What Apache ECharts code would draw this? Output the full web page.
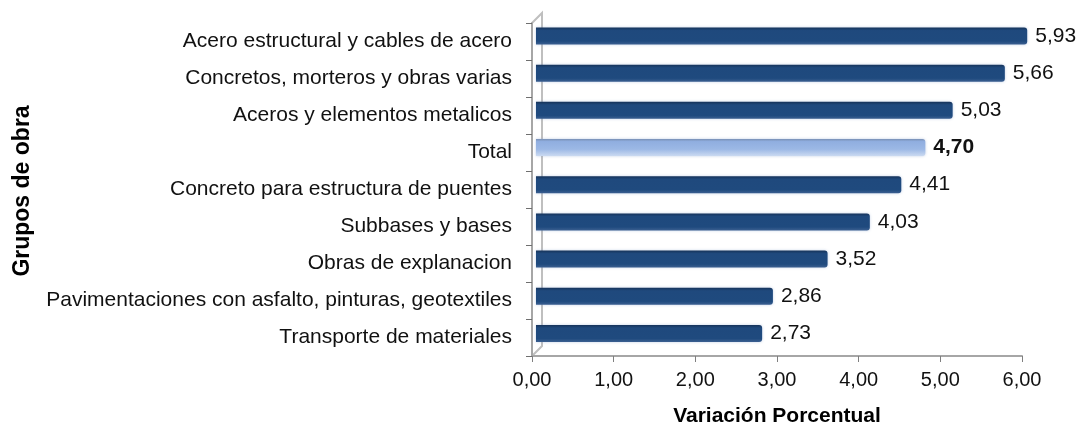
<!DOCTYPE html>
<html><head><meta charset="utf-8">
<script src="https://cdn.jsdelivr.net/npm/echarts@6/dist/echarts.min.js"></script>
<style>html,body{margin:0;padding:0;background:#fff}#c{width:1078px;height:433px}</style>
</head><body><div id="c"></div>
<script>
const categories = [
  "Acero estructural y cables de acero",
  "Concretos, morteros y obras varias",
  "Aceros y elementos metalicos",
  "Total",
  "Concreto para estructura de puentes",
  "Subbases y bases",
  "Obras de explanacion",
  "Pavimentaciones con asfalto, pinturas, geotextiles",
  "Transporte de materiales"
];
const values = [5.93, 5.66, 5.03, 4.70, 4.41, 4.03, 3.52, 2.86, 2.73];
const highlightCategory = "Total";
const xTicks = [0, 1, 2, 3, 4, 5, 6];
const xAxisTitle = "Variación Porcentual";
const yAxisTitle = "Grupos de obra";

const FONT = "'Liberation Sans', Arial, sans-serif";
const fmt = v => v.toFixed(2).replace('.', ',');

const darkGrad = new echarts.graphic.LinearGradient(0,0,0,1,[
  {offset:0,color:'#163359'},{offset:0.18,color:'#1f497d'},
  {offset:0.8,color:'#1f4a7e'},{offset:1,color:'#3b5f90'}]);
const lightGrad = new echarts.graphic.LinearGradient(0,0,0,1,[
  {offset:0,color:'#7a90b5'},{offset:0.15,color:'#90aee0'},
  {offset:0.6,color:'#9cb8e5'},{offset:1,color:'#cbdaf1'}]);

const chart = echarts.init(document.getElementById('c'), null, {renderer:'canvas'});
chart.setOption({
  animation:false,
  textStyle:{fontFamily:FONT},
  graphic:[
    {type:'polyline', z:0, shape:{points:[[532,23],[542,13],[542,346],[532,356]]},
     style:{stroke:'#bfbfbf', lineWidth:2, fill:null}},
    {type:'text', z:5, x:23, y:191, rotation:Math.PI/2,
     style:{text:yAxisTitle, font:"bold 23px " + FONT, fill:'#000',
            align:'center', verticalAlign:'middle'}}
  ],
  grid:[
    {left:532, right:56, top:23, bottom:77, containLabel:false},
    {left:536, right:45, top:17.4, bottom:81, containLabel:false}
  ],
  xAxis:[
    {gridIndex:0, type:'value', min:0, max:6, interval:1,
     axisLine:{show:true, lineStyle:{color:'#a6a6a6', width:2}},
     axisTick:{show:true, length:6, lineStyle:{color:'#7f7f7f'}},
     splitLine:{show:false},
     axisLabel:{formatter:v=>fmt(v), fontSize:20, color:'#111', margin:14, fontFamily:FONT},
     name:xAxisTitle, nameLocation:'middle', nameGap:50,
     nameTextStyle:{fontWeight:'bold', fontSize:21, color:'#000', fontFamily:FONT}},
    {gridIndex:1, type:'value', min:0, max:6, show:false}
  ],
  yAxis:[
    {gridIndex:0, type:'category', data:categories, inverse:true,
     axisLine:{show:true, lineStyle:{color:'#a6a6a6', width:2}},
     axisTick:{show:true, length:6, inside:false, lineStyle:{color:'#6f6f6f'}},
     axisLabel:{fontSize:21, color:'#111', margin:20, fontFamily:FONT}},
    {gridIndex:1, type:'category', data:categories, inverse:true, show:false}
  ],
  series:[{
    type:'bar', xAxisIndex:1, yAxisIndex:1, barWidth:17, z:3,
    data: values.map((v,i)=>({
      value:v,
      itemStyle:{color: categories[i]===highlightCategory ? lightGrad : darkGrad,
                 borderRadius:[0,3,3,0],
                 shadowColor:'rgba(120,150,200,0.45)', shadowBlur:3},
      label:{fontWeight: categories[i]===highlightCategory ? 'bold':'normal'}
    })),
    label:{show:true, position:'right', distance:8, formatter:p=>fmt(p.value),
           fontSize:21, color:'#111', fontFamily:FONT}
  }]
});
</script></body></html>
